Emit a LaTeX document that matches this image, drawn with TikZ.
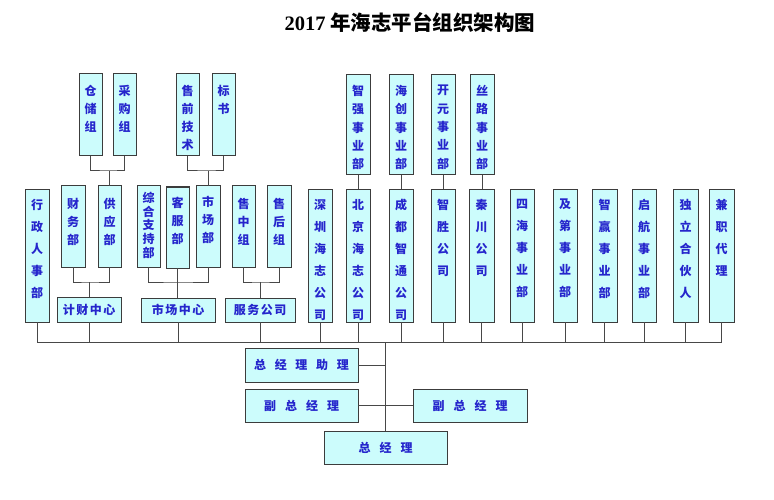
\documentclass[tikz,border=0pt]{standalone}
\usepackage{fontspec}
\setmainfont{Noto Sans CJK SC}
\newfontfamily\serifbf{Liberation Serif}
\definecolor{boxfill}{HTML}{CCFCFC}
\definecolor{boxline}{HTML}{3C3C3C}
\definecolor{txt}{HTML}{2525CC}
\definecolor{conn}{HTML}{484848}
\tikzset{
  bx/.style={draw=boxline, fill=boxfill, line width=1pt, inner sep=0pt, outer sep=0pt, rectangle},
  vt/.style={text=txt, inner sep=0pt, align=center},
  hb/.style={bx, text=txt, font=\fontsize{12pt}{14pt}\selectfont\bfseries},
  cn/.style={draw=conn, line width=1pt},
}
% name x1 y1 x2 y2 first-char-offset line-spacing text
\newcommand\vbx[8]{%
  \node[bx, anchor=north west, minimum width={(#4-#2)*1pt}, minimum height={(#5-#3)*1pt}] (#1) at (#2,#3) {};
  \node[vt, anchor=north, font={\fontsize{12pt}{#7pt}\selectfont\bfseries}] (#1t) at ([yshift={-(#6-5)*1pt}]#1.north) {#8};
}
% name x1 y1 x2 y2 text
\newcommand\hbx[6]{%
  \node[hb, anchor=north west, minimum width={(#4-#2)*1pt}, minimum height={(#5-#3)*1pt}] (#1) at (#2,#3) {#6};
}
\begin{document}
\begin{tikzpicture}[x=1pt,y=-1pt]
\useasboundingbox (0,0) rectangle (774,500);
\node (title) at (410,22) {\fontsize{20.5pt}{24pt}\selectfont\bfseries{\serifbf 2017} 年海志平台组织架构图};
% top row A
\vbx{cc}{79}{74}{102}{156}{16}{18}{仓\\储\\组}
\vbx{cg}{113}{74}{136}{156}{16}{18}{采\\购\\组}
\vbx{sq}{176}{74}{199}{156}{16}{18}{售\\前\\技\\术}
\vbx{bs}{212}{74}{235}{156}{16}{18}{标\\书}
% top row B
\vbx{zq}{346}{75}{370}{175}{15}{18.3}{智\\强\\事\\业\\部}
\vbx{hc}{389}{75}{413}{175}{15}{18.3}{海\\创\\事\\业\\部}
\vbx{ky}{431}{75}{455}{175}{15}{18.3}{开\\元\\事\\业\\部}
\vbx{sl}{470}{75}{494}{175}{15}{18.3}{丝\\路\\事\\业\\部}
% row 2 short
\vbx{cw}{61}{186}{85}{267}{17}{18}{财\\务\\部}
\vbx{gy}{98}{186}{121}{267}{17}{18}{供\\应\\部}
\vbx{zh}{137}{186}{160}{267}{11}{13.7}{综\\合\\支\\持\\部}
\vbx{kf}{166}{187}{189}{268}{15}{18}{客\\服\\部}
\vbx{sc}{196}{186}{220}{267}{15}{18}{市\\场\\部}
\vbx{sizhong}{232}{186}{255}{267}{17}{18}{售\\中\\组}
\vbx{shouhou}{267}{186}{291}{267}{17}{18}{售\\后\\组}
% row 2 tall
\vbx{xz}{25}{189}{49}{322}{15}{22}{行\\政\\人\\事\\部}
\vbx{szhen}{308}{189}{332}{322}{15}{22}{深\\圳\\海\\志\\公\\司}
\vbx{bj}{346}{189}{370}{322}{15}{22}{北\\京\\海\\志\\公\\司}
\vbx{cd}{389}{189}{413}{322}{15}{22}{成\\都\\智\\通\\公\\司}
\vbx{zs}{431}{189}{455}{322}{15}{22}{智\\胜\\公\\司}
\vbx{qc}{469}{189}{494}{322}{15}{22}{秦\\川\\公\\司}
\vbx{sihai}{510}{189}{534}{322}{15}{22}{四\\海\\事\\业\\部}
\vbx{jd}{553}{189}{577}{322}{15}{22}{及\\第\\事\\业\\部}
\vbx{zy}{592}{189}{617}{322}{15}{22}{智\\赢\\事\\业\\部}
\vbx{qh}{632}{189}{656}{322}{15}{22}{启\\航\\事\\业\\部}
\vbx{dl}{673}{189}{698}{322}{15}{22}{独\\立\\合\\伙\\人}
\vbx{jz}{709}{189}{734}{322}{15}{22}{兼\\职\\代\\理}
% row 3
\hbx{jc}{57}{297}{121}{322}{计\hspace{1.5pt}财\hspace{1.5pt}中\hspace{1.5pt}心}
\hbx{scz}{141}{298}{215}{322}{市\hspace{1.5pt}场\hspace{1.5pt}中\hspace{1.5pt}心}
\hbx{fw}{225}{298}{295}{322}{服\hspace{1.5pt}务\hspace{1.5pt}公\hspace{1.5pt}司}
% bottom
\hbx{zlzl}{245}{348}{358}{382}{总\hspace{8.75pt}经\hspace{8.75pt}理\hspace{8.75pt}助\hspace{8.75pt}理}
\hbx{fz1}{245}{389}{358}{422}{副\hspace{9pt}总\hspace{9pt}经\hspace{9pt}理}
\hbx{fz2}{413}{389}{527}{422}{副\hspace{9pt}总\hspace{9pt}经\hspace{9pt}理}
\hbx{zjl}{324}{431}{447}{464}{总\hspace{9pt}经\hspace{9pt}理}
% connectors
\coordinate (busL) at (37,342);
\coordinate (busR) at (721.5,342);
\coordinate (y171) at (0,171);
\coordinate (y282) at (0,282);
\draw[cn] (busL) -- (busR);
\foreach \n in {xz,jc,scz,fw,szhen,bj,cd,zs,qc,sihai,jd,zy,qh,dl,jz}
  \draw[cn] (\n.south) -- (\n.south |- busL);
\draw[cn] (zjl.north |- busL) -- (zjl.north);
\draw[cn] (zlzl.east) -- (zlzl.east -| zjl.north);
\draw[cn] (fz1.east) -- (fz2.west);
\coordinate (j1) at (gy.north |- y171);
\draw[cn] (cc.south) |- (j1) -| (cg.south);
\draw[cn] (j1) -- (gy.north);
\coordinate (j2) at (sc.north |- y171);
\draw[cn] (sq.south) |- (j2) -| (bs.south);
\draw[cn] (j2) -- (sc.north);
\coordinate (j3) at (jc.north |- y282);
\draw[cn] (cw.south) |- (j3) -| (gy.south);
\draw[cn] (j3) -- (jc.north);
\coordinate (j4) at (scz.north |- y282);
\draw[cn] (zh.south) |- (j4) -| (sc.south);
\draw[cn] (kf.south) -- (kf.south |- scz.north);
\coordinate (j5) at (fw.north |- y282);
\draw[cn] (sizhong.south) |- (j5) -| (shouhou.south);
\draw[cn] (j5) -- (fw.north);
\draw[cn] (zq.south) -- (zq.south |- bj.north);
\draw[cn] (hc.south) -- (hc.south |- cd.north);
\draw[cn] (ky.south) -- (ky.south |- zs.north);
\draw[cn] (sl.south) -- (sl.south |- qc.north);
\end{tikzpicture}
\end{document}
